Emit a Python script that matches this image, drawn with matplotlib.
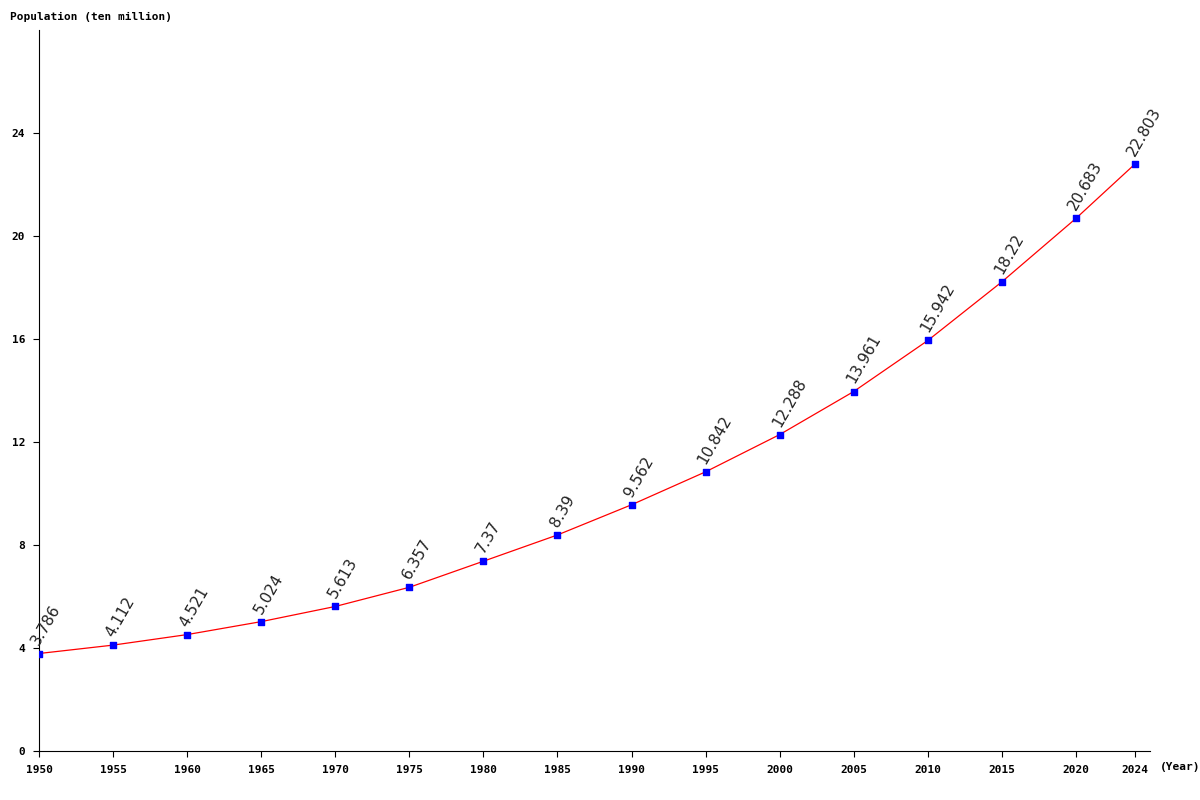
import matplotlib
matplotlib.use("Agg")
import matplotlib.pyplot as plt

years = [1950, 1955, 1960, 1965, 1970, 1975, 1980, 1985, 1990, 1995,
         2000, 2005, 2010, 2015, 2020, 2024]
population = [3.786, 4.112, 4.521, 5.024, 5.613, 6.357, 7.37, 8.39, 9.562,
              10.842, 12.288, 13.961, 15.942, 18.22, 20.683, 22.803]
labels = ["3.786", "4.112", "4.521", "5.024", "5.613", "6.357", "7.37", "8.39",
          "9.562", "10.842", "12.288", "13.961", "15.942", "18.22", "20.683", "22.803"]
yticks = [0, 4, 8, 12, 16, 20, 24]

fig = plt.figure(figsize=(12, 8), dpi=100)
ax = fig.add_axes([39 / 1200, 1 - 751 / 800, (1150 - 39) / 1200, (751 - 30) / 800])

ax.plot(years, population, color="red", lw=0.9, zorder=2)
ax.scatter(years, population, color="blue", s=14, marker="s", zorder=3)
for x, y, t in zip(years, population, labels):
    ax.annotate(t, (x, y), xytext=(2, 4), textcoords="offset points",
                rotation=60, fontsize=11, color="#222222", ha="left", va="bottom",
                rotation_mode="anchor")

ax.set_xlim(1950, 2025)
ax.set_ylim(0, 28)
ax.set_xticks(years)
ax.set_yticks(yticks)
mono = dict(family="DejaVu Sans Mono", fontsize=8, fontweight="bold")
ax.set_xticklabels([str(y) for y in years], **mono)
ax.set_yticklabels([str(v) for v in yticks], **mono)
ax.tick_params(length=4, color="black", pad=6)
for s in ["top", "right"]:
    ax.spines[s].set_visible(False)

fig.text(10 / 1200, 1 - 17 / 800, "Population (ten million)", va="center", **mono)
fig.text(1160 / 1200, 1 - 767 / 800, "(Year)", va="center", **mono)

fig.savefig("out.png", facecolor="white")
